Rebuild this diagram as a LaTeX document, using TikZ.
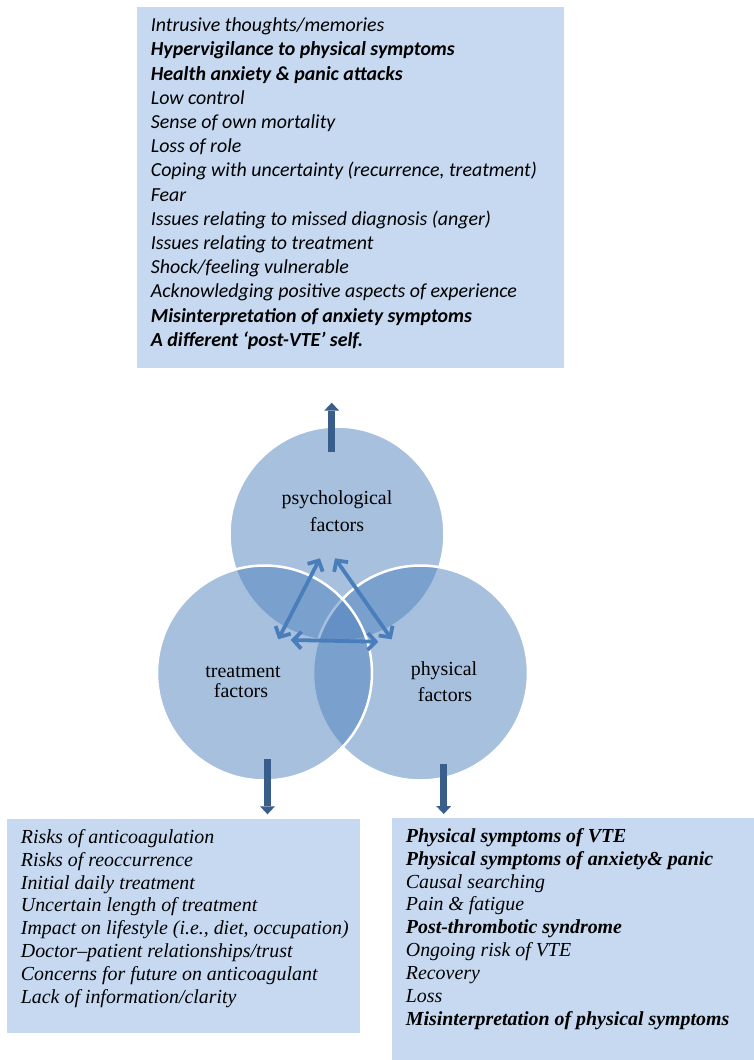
\documentclass[tikz,border=0pt]{standalone}
\usepackage{fontspec}
\setmainfont{Liberation Serif}
\newfontfamily\calfont{Carlito}
\usetikzlibrary{arrows.meta}
\definecolor{boxfill}{HTML}{C6D9F1}
\definecolor{circfill}{HTML}{4F81BD}
\definecolor{darkarrow}{HTML}{3A5E8C}
\definecolor{midarrow}{HTML}{4A7EBB}
\begin{document}
\begin{tikzpicture}[x=1pt,y=-1pt,
  infobox/.style={fill=boxfill, draw=none, inner sep=0pt, outer sep=0pt, anchor=north west},
  topit/.style={anchor=base west, inner sep=0pt, font=\calfont\fontsize{19.9}{23}\selectfont\itshape},
  topbf/.style={anchor=base west, inner sep=0pt, font=\calfont\fontsize{19.9}{23}\selectfont\bfseries\itshape},
  serit/.style={anchor=base west, inner sep=0pt, font=\fontsize{19.9}{23}\selectfont\itshape},
  serbf/.style={anchor=base west, inner sep=0pt, font=\fontsize{19.9}{23}\selectfont\bfseries\itshape},
  venn/.style={circle, inner sep=0pt, minimum size=215pt, fill=circfill, fill opacity=0.5, draw=white, draw opacity=1, line width=2.5pt},
  vennlabel/.style={anchor=base, inner sep=0pt, font=\fontsize{19.9}{23}\selectfont},
  bigarrow/.style={draw=darkarrow, line width=7.5pt, -{Triangle[length=8pt,width=15pt,line width=0pt]}},
  dblarrow/.style={draw=midarrow, line width=3.8pt, line cap=round, {Straight Barb[length=8pt,width=17pt]}-{Straight Barb[length=8pt,width=17pt]}}
]
\useasboundingbox (0,0) rectangle (754,1060);

% boxes
\node[infobox, minimum width=427pt, minimum height=361pt] (topbox) at (137,7) {};
\node[infobox, minimum width=353pt, minimum height=214pt] (leftbox) at (7,819) {};
\node[infobox, minimum width=362pt, minimum height=242pt] (rightbox) at (392,818) {};

% top box text
\node[topit] (t1) at (150.7,31.7) {Intrusive thoughts/memories};
\node[topbf] (t2) at (150.7,55.9) {Hypervigilance to physical symptoms};
\node[topbf] (t3) at (150.7,80.1) {Health anxiety \& panic attacks};
\node[topit] (t4) at (150.7,104.3) {Low control};
\node[topit] (t5) at (150.7,128.5) {Sense of own mortality};
\node[topit] (t6) at (150.7,152.7) {Loss of role};
\node[topit] (t7) at (150.7,176.9) {Coping with uncertainty (recurrence, treatment)};
\node[topit] (t8) at (150.7,201.1) {Fear};
\node[topit] (t9) at (150.7,225.3) {Issues relating to missed diagnosis (anger)};
\node[topit] (t10) at (150.7,249.5) {Issues relating to treatment};
\node[topit] (t11) at (150.7,273.7) {Shock/feeling vulnerable};
\node[topit] (t12) at (150.7,297.9) {Acknowledging positive aspects of experience};
\node[topbf] (t13) at (150.7,322.1) {Misinterpretation of anxiety symptoms};
\node[topbf] (t14) at (150.7,346.3) {A different ‘post-VTE’ self.};

% left box text
\node[serit] (l1) at (20.7,843.3) {Risks of anticoagulation};
\node[serit] (l2) at (20.7,866.2) {Risks of reoccurrence};
\node[serit] (l3) at (20.7,889.0) {Initial daily treatment};
\node[serit] (l4) at (20.7,911.9) {Uncertain length of treatment};
\node[serit] (l5) at (20.7,934.7) {Impact on lifestyle (i.e., diet, occupation)};
\node[serit] (l6) at (20.7,957.6) {Doctor–patient relationships/trust};
\node[serit] (l7) at (20.7,980.5) {Concerns for future on anticoagulant};
\node[serit] (l8) at (20.7,1003.3) {Lack of information/clarity};

% right box text
\node[serbf] (r1) at (405.7,842.3) {Physical symptoms of VTE};
\node[serbf] (r2) at (405.7,865.1) {Physical symptoms of anxiety\& panic};
\node[serit] (r3) at (405.7,888.0) {Causal searching};
\node[serit] (r4) at (405.7,910.8) {Pain \& fatigue};
\node[serbf] (r5) at (405.7,933.7) {Post-thrombotic syndrome};
\node[serit] (r6) at (405.7,956.5) {Ongoing risk of VTE};
\node[serit] (r7) at (405.7,979.3) {Recovery};
\node[serit] (r8) at (405.7,1002.2) {Loss};
\node[serbf] (r9) at (405.7,1025.0) {Misinterpretation of physical symptoms};

% venn circles
\node[venn] (psy) at (337,534) {};
\node[venn] (phy) at (420.5,673) {};
\node[venn] (tre) at (264.5,673) {};

% labels
\node[vennlabel] (psyA) at (337,504) {psychological};
\node[vennlabel] (psyB) at (337,531.7) {factors};
\node[vennlabel] (treA) at (243,677) {treatment};
\node[vennlabel] (treB) at (241,697) {factors};
\node[vennlabel] (phyA) at (444,675) {physical};
\node[vennlabel] (phyB) at (445,701.7) {factors};

% thick arrows
\coordinate (upS) at (331.7,451.7);
\coordinate (upE) at (331.7,402.7);
\coordinate (dlS) at (267.5,759);
\coordinate (dlE) at (267.5,814.3);
\coordinate (drS) at (443.7,764);
\coordinate (drE) at (443.7,814);
\draw[bigarrow] (upS) -- (upE);
\draw[bigarrow] (dlS) -- (dlE);
\draw[bigarrow] (drS) -- (drE);

% double arrows
\coordinate (aL1) at (320,558.3);
\coordinate (aL2) at (278.3,639.3);
\coordinate (aR1) at (335,558.3);
\coordinate (aR2) at (391.7,639.3);
\coordinate (aH1) at (290.7,640);
\coordinate (aH2) at (378.3,641.7);
\draw[dblarrow] (aL1) -- (aL2);
\draw[dblarrow] (aR1) -- (aR2);
\draw[dblarrow] (aH1) -- (aH2);
\end{tikzpicture}
\end{document}
